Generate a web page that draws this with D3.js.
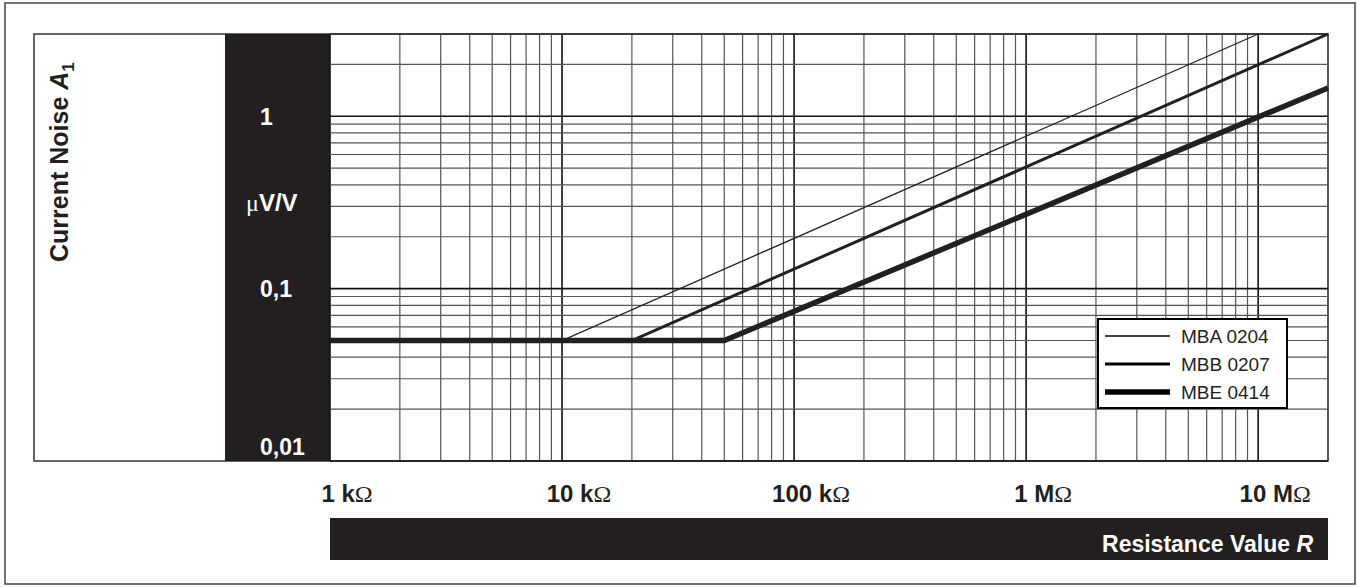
<!DOCTYPE html>
<html>
<head>
<meta charset="utf-8">
<script src="https://cdn.jsdelivr.net/npm/d3@7"></script>
<style>
  body { margin: 0; background: #fff; }
  svg { display: block; font-family: "Liberation Sans", Arial, sans-serif; }
</style>
</head>
<body>
<svg class="chart-svg"></svg>
<script>
// values
const xDomain = [1e3, 2e7];          // resistance, ohm
const yDomain = [0.01, 3];           // current noise, uV/V
const xTickValues = [1e3, 1e4, 1e5, 1e6, 1e7];
const xTickNames = ["1 k", "10 k", "100 k", "1 M", "10 M"];
const yTickValues = [1, 0.1, 0.01];
const yTickNames = ["1", "0,1", "0,01"];

const seriesNames = ["MBA 0204", "MBB 0207", "MBE 0414"];
const mba0204 = [[1e3, 0.05], [1e4, 0.05], [1e7, 3]];
const mbb0207 = [[1e3, 0.05], [2e4, 0.05], [2e7, 3]];
const mbe0414 = [[1e3, 0.05], [5e4, 0.05], [2e7, 1.46]];
const seriesWidths = [1.3, 3, 5.5];

const W = 1358, H = 587;
const plot = { left: 330, right: 1328, top: 34, bottom: 461 };
const ink = "#231f20";

const svg = d3.select(".chart-svg")
    .attr("width", W)
    .attr("height", H);

const x = d3.scaleLog().domain(xDomain).range([plot.left, plot.right]);
const y = d3.scaleLog().domain(yDomain).range([plot.bottom, plot.top]);

// outer frame
svg.append("rect")
    .attr("x", 5).attr("y", 3)
    .attr("width", 1350).attr("height", 581)
    .attr("fill", "none").attr("stroke", "#444").attr("stroke-width", 1.5);

// inner frame
svg.append("rect")
    .attr("x", 34).attr("y", plot.top)
    .attr("width", plot.right - 34).attr("height", plot.bottom - plot.top)
    .attr("fill", "#fff").attr("stroke", "#333").attr("stroke-width", 1.5);

// black band behind y tick labels
svg.append("rect")
    .attr("x", 225).attr("y", plot.top)
    .attr("width", plot.left - 225).attr("height", plot.bottom - plot.top)
    .attr("fill", ink);

// grid lines: every 1..9 of each decade
const xGrid = [];
for (let d = 1e3; d < xDomain[1]; d *= 10) {
    for (let k = 1; k < 10; k++) if (d * k <= xDomain[1]) xGrid.push(d * k);
}
xGrid.push(xDomain[1]);
const yGrid = [];
for (let d = 0.01; d < yDomain[1]; d *= 10) {
    for (let k = 1; k < 10; k++) if (d * k <= yDomain[1] * 1.0001) yGrid.push(d * k);
}
const isMajor = v => [...xTickValues, ...yTickValues].some(t => Math.abs(t - v) / t < 1e-6);

const grid = svg.append("g").attr("fill", "none");
grid.selectAll(".vx")
    .data(xGrid)
    .join("line")
    .attr("x1", d => x(d)).attr("x2", d => x(d))
    .attr("y1", plot.top).attr("y2", plot.bottom)
    .attr("stroke", d => isMajor(d) ? "#111" : "#555")
    .attr("stroke-width", d => isMajor(d) ? 1.6 : 1.2);

grid.selectAll(".hy")
    .data(yGrid)
    .join("line")
    .attr("x1", plot.left).attr("x2", plot.right)
    .attr("y1", d => y(d)).attr("y2", d => y(d))
    .attr("stroke", d => isMajor(d) ? "#111" : "#555")
    .attr("stroke-width", d => isMajor(d) ? 1.6 : 1.2);

svg.append("line")
    .attr("x1", plot.left).attr("x2", plot.right)
    .attr("y1", plot.top).attr("y2", plot.top)
    .attr("stroke", "#333").attr("stroke-width", 1.5);

// curves
const line = d3.line().x(d => x(d[0])).y(d => y(d[1]));
const series = [mba0204, mbb0207, mbe0414];
svg.append("g")
    .selectAll("path")
    .data(series)
    .join("path")
    .attr("d", line)
    .attr("fill", "none")
    .attr("stroke", ink)
    .attr("stroke-width", (d, i) => seriesWidths[i]);

// y tick labels in the band
const yl = svg.append("g")
    .attr("fill", "#fff")
    .attr("font-weight", "bold")
    .attr("font-size", 23);
yl.selectAll("text")
    .data(yTickValues)
    .join("text")
    .attr("x", 260)
    .attr("y", (d, i) => i === 2 ? y(d) - 14 : y(d))
    .attr("dy", "0.36em")
    .text((d, i) => yTickNames[i]);

const unit = yl.append("text")
    .attr("x", 246)
    .attr("y", y(Math.sqrt(yTickValues[0] * yTickValues[1])))
    .attr("dy", "0.36em")
    .attr("font-size", 24);
unit.append("tspan")
    .attr("font-family", "'Liberation Serif', serif")
    .attr("font-weight", "normal")
    .text("\u03bc");
unit.append("tspan").text("V/V");

// y title
const yt = svg.append("text")
    .attr("transform", "translate(68,262) rotate(-90)")
    .attr("font-weight", "bold")
    .attr("font-size", 25)
    .attr("fill", ink);
yt.append("tspan").text("Current Noise ");
yt.append("tspan").attr("font-style", "italic").text("A");
yt.append("tspan").attr("font-size", 17).attr("dy", 6).text("1");

// x tick labels
const xl = svg.append("g")
    .attr("font-weight", "bold")
    .attr("font-size", 24)
    .attr("fill", ink)
    .attr("text-anchor", "middle");
xl.selectAll("text")
    .data(xTickValues)
    .join("text")
    .attr("x", d => x(d) + 17)
    .attr("y", 502)
    .each(function (d, i) {
        const t = d3.select(this);
        t.append("tspan").text(xTickNames[i]);
        t.append("tspan")
            .attr("font-family", "'Liberation Serif', serif")
            .attr("font-weight", "normal")
            .text("\u03a9");
    });

// x title bar
svg.append("rect")
    .attr("x", plot.left).attr("y", 518)
    .attr("width", plot.right - plot.left).attr("height", 42)
    .attr("fill", ink);
const xt = svg.append("text")
    .attr("x", 1313).attr("y", 552)
    .attr("text-anchor", "end")
    .attr("font-weight", "bold")
    .attr("font-size", 23)
    .attr("fill", "#fff");
xt.append("tspan").text("Resistance Value ");
xt.append("tspan").attr("font-style", "italic").text("R");

// legend
const lg = svg.append("g").attr("transform", "translate(1098,319)");
lg.append("rect")
    .attr("width", 189).attr("height", 89)
    .attr("fill", "#fff").attr("stroke", "#000").attr("stroke-width", 2);
const rows = lg.selectAll("g")
    .data(seriesNames)
    .join("g")
    .attr("transform", (d, i) => `translate(0,${17 + i * 28})`);
rows.append("line")
    .attr("x1", 7).attr("x2", 72)
    .attr("stroke", "#000")
    .attr("stroke-width", (d, i) => seriesWidths[i]);
rows.append("text")
    .attr("x", 83).attr("dy", "0.36em")
    .attr("font-size", 19)
    .attr("fill", ink)
    .text(d => d);
</script>
</body>
</html>
